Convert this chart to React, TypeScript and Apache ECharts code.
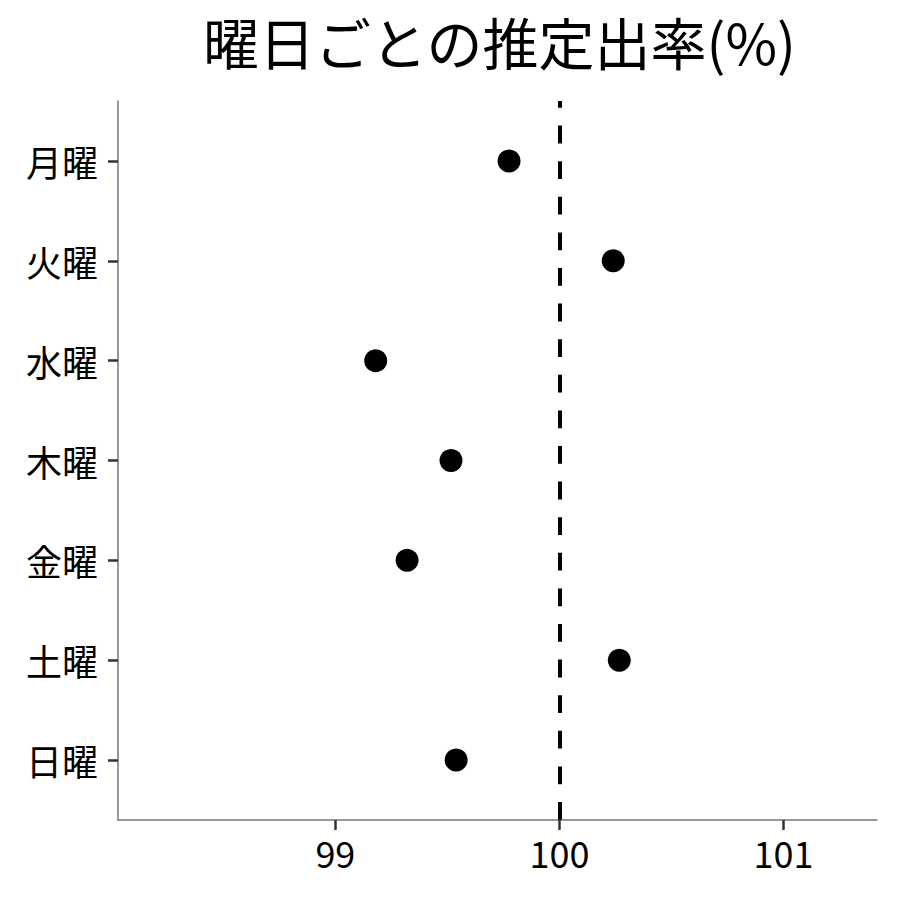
import React, { useEffect, useRef } from "react";
import * as echarts from "echarts";

const chartTitle = "曜日ごとの推定出率(%)";
const days = ["月曜", "火曜", "水曜", "木曜", "金曜", "土曜", "日曜"];
const dayIndex = [1, 2, 3, 4, 5, 6, 7];
const rates = [99.775, 100.24, 99.18, 99.516, 99.32, 100.267, 99.539];
const xTicks = [99, 100, 101];
const referenceValue = 100;

const FONT = "'Noto Sans CJK JP', 'Noto Sans', sans-serif";

export default function App() {
  const ref = useRef<HTMLDivElement>(null);
  useEffect(() => {
    if (!ref.current) return;
    const chart = echarts.init(ref.current, undefined, { renderer: "svg" });
    chart.setOption({
      animation: false,
      backgroundColor: "#ffffff",
      textStyle: { fontFamily: FONT },
      title: {
        text: chartTitle,
        left: 494.5,
        top: 7,
        textAlign: "center",
        textStyle: { fontFamily: FONT, fontSize: 56, fontWeight: "normal", color: "#000" },
      },
      grid: { left: 118, right: 23, top: 101, bottom: 80 },
      xAxis: {
        type: "value",
        min: 98.03,
        max: 101.417,
        splitLine: { show: false },
        axisLine: { show: true, onZero: false, lineStyle: { color: "#777", width: 1.5 } },
        axisTick: { show: true, customValues: xTicks, length: 10, lineStyle: { color: "#333", width: 2.5 } },
        axisLabel: {
          customValues: xTicks,
          fontSize: 36,
          color: "#000",
          margin: 14,
          fontFamily: FONT,
        },
      },
      yAxis: {
        type: "value",
        inverse: true,
        min: 0.4,
        max: 7.6,
        splitLine: { show: false },
        axisLine: { show: true, onZero: false, lineStyle: { color: "#777", width: 1.5 } },
        axisTick: { show: true, customValues: dayIndex, length: 10, lineStyle: { color: "#333", width: 2.5 } },
        axisLabel: {
          customValues: dayIndex,
          formatter: (v: number) => days[Math.round(v) - 1] ?? "",
          fontSize: 36,
          color: "#000",
          margin: 20,
          fontFamily: FONT,
        },
      },
      series: [
        {
          type: "scatter",
          data: rates.map((r, i) => [r, dayIndex[i]]),
          symbol: "circle",
          symbolSize: 23,
          itemStyle: { color: "#000", opacity: 1 },
          markLine: {
            silent: true,
            symbol: ["none", "none"],
            label: { show: false },
            data: [{ xAxis: referenceValue }],
            lineStyle: { color: "#000", width: 4, type: [17.8, 17.8], dashOffset: 10.6, opacity: 1 },
          },
        },
      ],
    });
    return () => chart.dispose();
  }, []);
  return (
    <div
      ref={ref}
      style={{ position: "fixed", left: 0, top: 0, width: 900, height: 900, background: "#fff" }}
    />
  );
}
